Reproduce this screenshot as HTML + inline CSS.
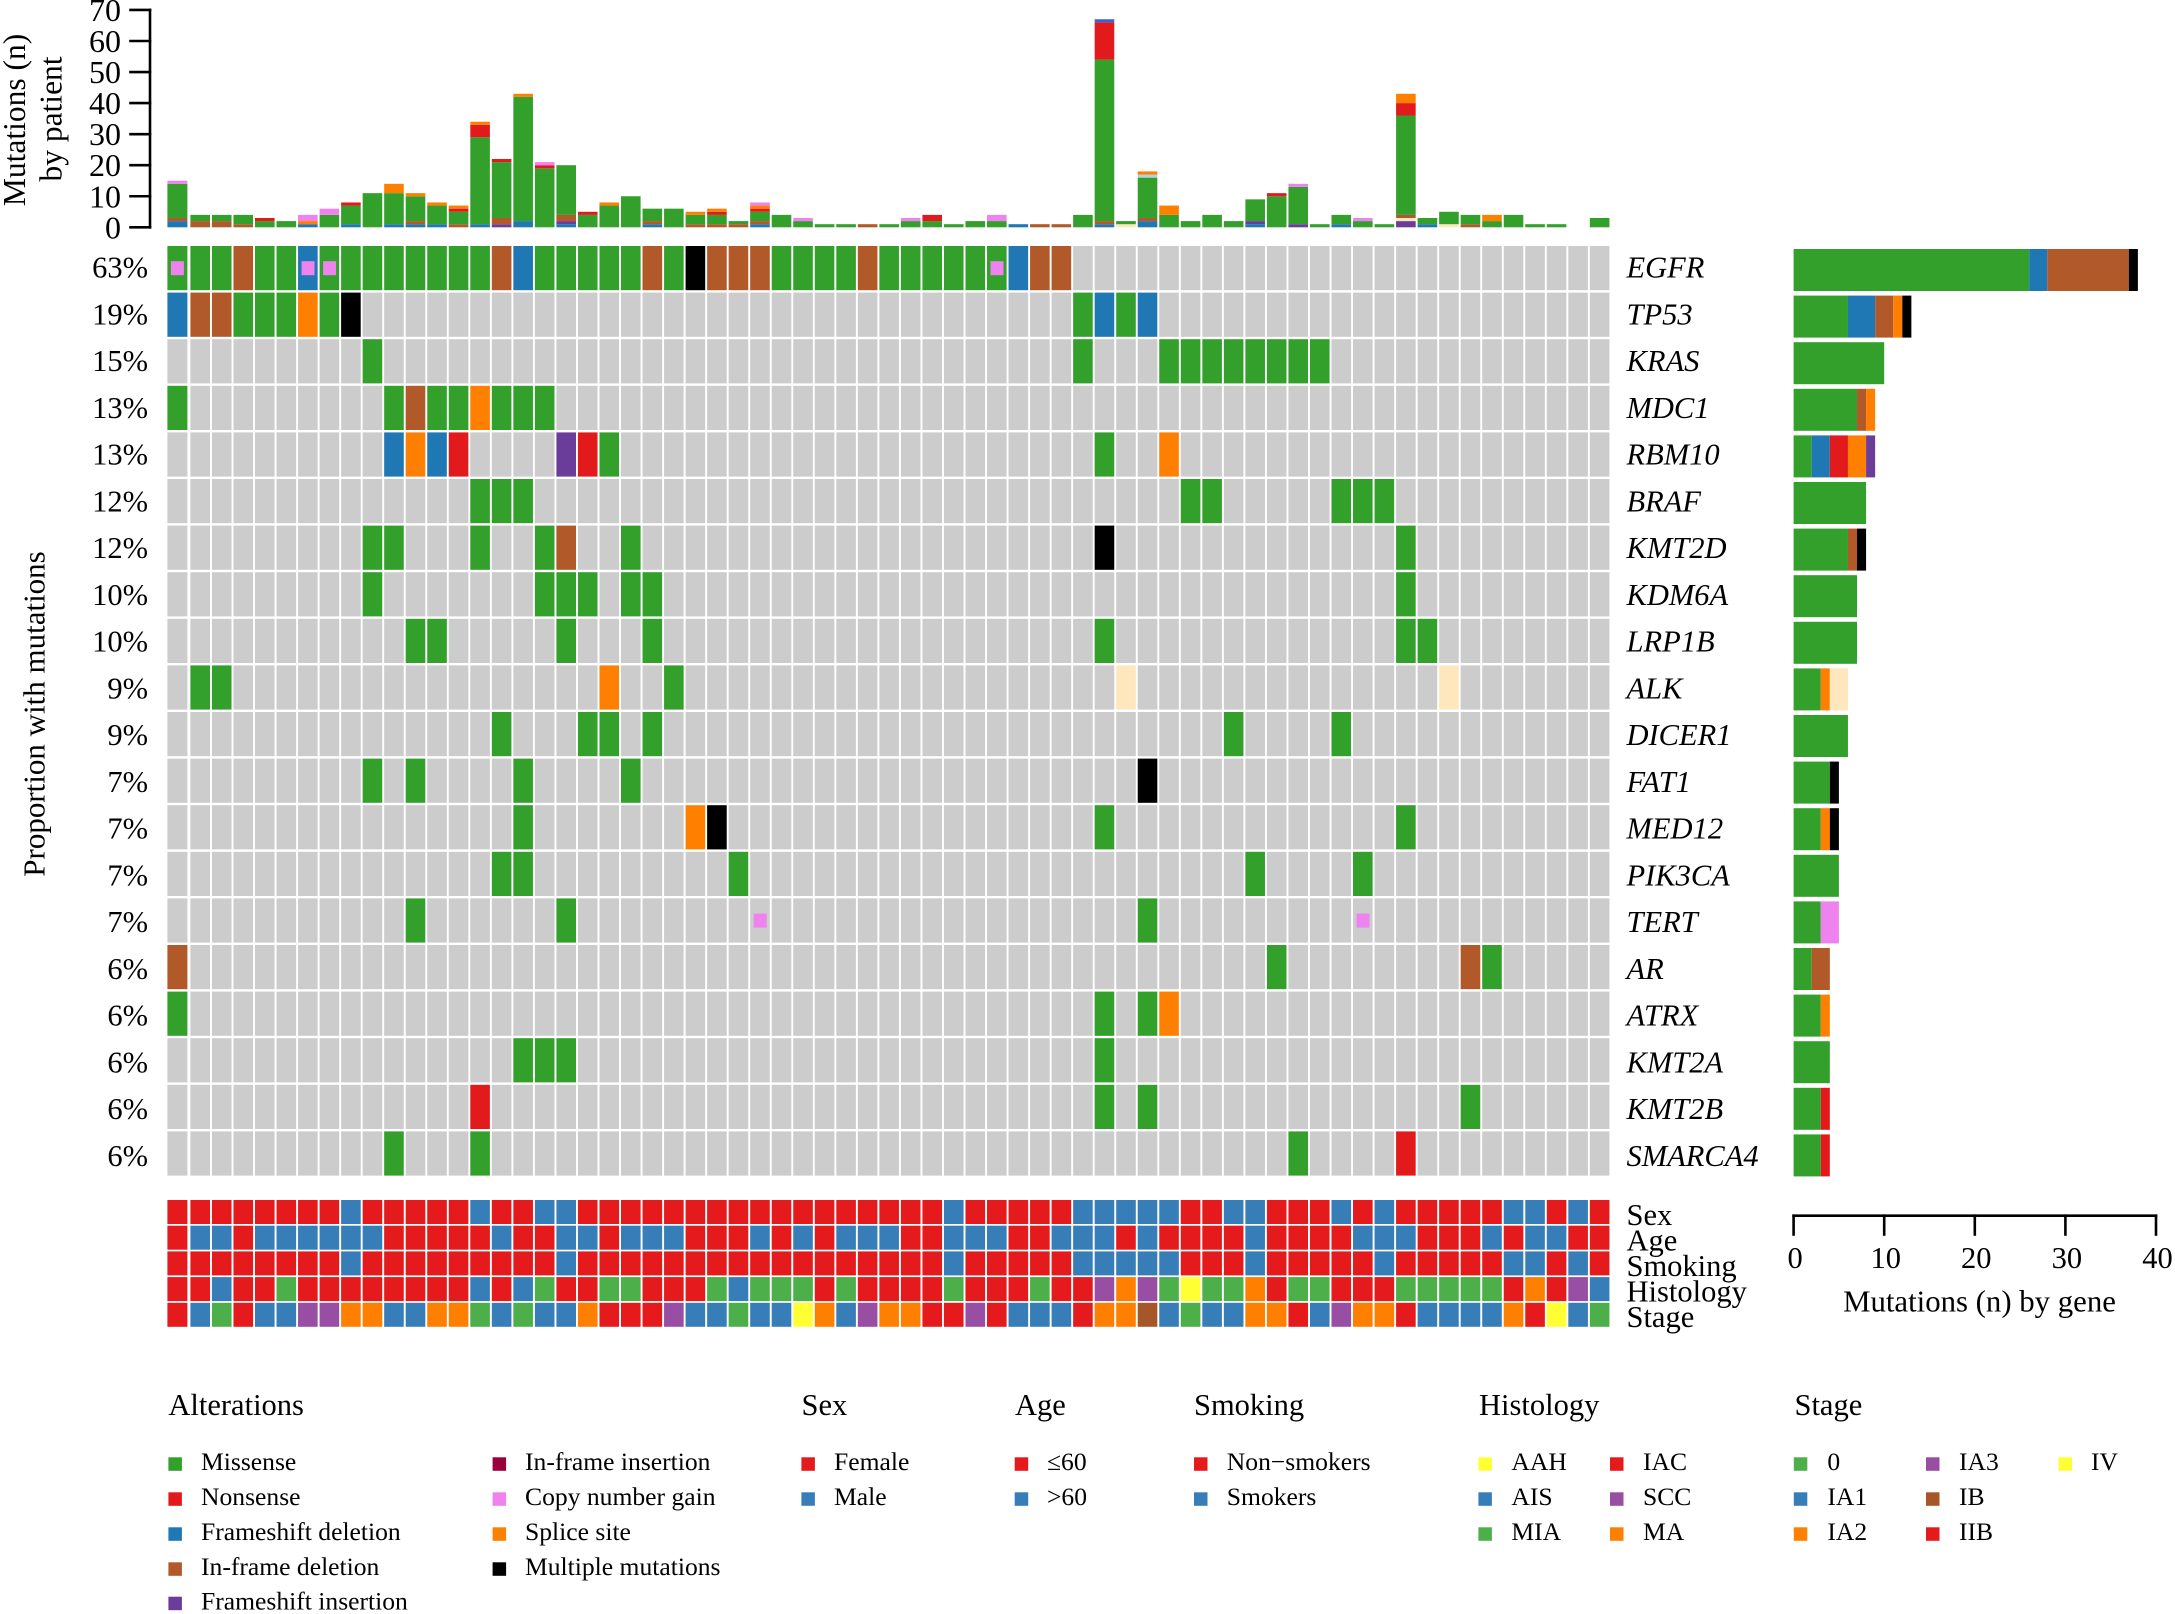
<!DOCTYPE html>
<html lang="en">
<head>
<meta charset="utf-8">
<title>Oncoprint of mutations by patient and gene</title>
<style>
html,body{margin:0;padding:0;background:#fff;}
svg{display:block;}
text{font-family:"Liberation Serif",serif;fill:#000;}
.leg{font-size:25.6px;}
.ttl{font-size:30.5px;}
</style>
</head>
<body>
<svg id="chart" xmlns="http://www.w3.org/2000/svg" width="2175" height="1614" viewBox="0 0 2175 1614">
<rect width="2175" height="1614" fill="#ffffff"/>
<g id="topBars"></g>
<g id="topAxis"></g>
<text font-size="31.5" text-anchor="middle" transform="translate(25 120) rotate(-90)">Mutations (n)</text>
<text font-size="31.5" text-anchor="middle" transform="translate(61.7 119) rotate(-90)">by patient</text>
<text font-size="31" text-anchor="middle" transform="translate(44.5 714) rotate(-90)">Proportion with mutations</text>
<g id="grid"></g>
<g id="pct"></g>
<g id="genes"></g>
<g id="geneBars"></g>
<g id="ann"></g>
<g id="annLabels"></g>
<g id="geneAxis"></g>
<text font-size="30.8" text-anchor="middle" x="1979.5" y="1311.7">Mutations (n) by gene</text>

<g>
<text class="ttl" x="168.4" y="1415">Alterations</text>
<rect x="168.4" y="1457.3" width="13.5" height="13.5" fill="#33a02c"/><text class="leg" x="201" y="1470">Missense</text>
<rect x="168.4" y="1492.3" width="13.5" height="13.5" fill="#e31a1c"/><text class="leg" x="201" y="1505">Nonsense</text>
<rect x="168.4" y="1527.3" width="13.5" height="13.5" fill="#1f78b4"/><text class="leg" x="201" y="1540">Frameshift deletion</text>
<rect x="168.4" y="1562.3" width="13.5" height="13.5" fill="#b15928"/><text class="leg" x="201" y="1575">In-frame deletion</text>
<rect x="168.4" y="1596.7" width="13.5" height="13.5" fill="#6a3d9a"/><text class="leg" x="201" y="1609.5">Frameshift insertion</text>
<rect x="492.6" y="1457.3" width="13.5" height="13.5" fill="#99003c"/><text class="leg" x="525" y="1470">In-frame insertion</text>
<rect x="492.6" y="1492.3" width="13.5" height="13.5" fill="#ee82ee"/><text class="leg" x="525" y="1505">Copy number gain</text>
<rect x="492.6" y="1527.3" width="13.5" height="13.5" fill="#ff7f00"/><text class="leg" x="525" y="1540">Splice site</text>
<rect x="492.6" y="1562.3" width="13.5" height="13.5" fill="#000000"/><text class="leg" x="525" y="1575">Multiple mutations</text>
</g>

<g>
<text class="ttl" x="801.5" y="1415">Sex</text>
<rect x="801.4" y="1457.3" width="13.5" height="13.5" fill="#e41a1c"/><text class="leg" x="834" y="1470">Female</text>
<rect x="801.4" y="1492.3" width="13.5" height="13.5" fill="#377eb8"/><text class="leg" x="834" y="1505">Male</text>
</g>

<g>
<text class="ttl" x="1015" y="1415">Age</text>
<rect x="1014.7" y="1457.3" width="13.5" height="13.5" fill="#e41a1c"/><text class="leg" x="1047" y="1470">≤60</text>
<rect x="1014.7" y="1492.3" width="13.5" height="13.5" fill="#377eb8"/><text class="leg" x="1047" y="1505">&gt;60</text>
</g>

<g>
<text class="ttl" x="1194" y="1415">Smoking</text>
<rect x="1194" y="1457.3" width="13.5" height="13.5" fill="#e41a1c"/><text class="leg" x="1226.8" y="1470">Non−smokers</text>
<rect x="1194" y="1492.3" width="13.5" height="13.5" fill="#377eb8"/><text class="leg" x="1226.8" y="1505">Smokers</text>
</g>

<g>
<text class="ttl" x="1479" y="1415">Histology</text>
<rect x="1478.4" y="1457.3" width="13.5" height="13.5" fill="#ffff33"/><text class="leg" x="1511.4" y="1470">AAH</text>
<rect x="1478.4" y="1492.3" width="13.5" height="13.5" fill="#377eb8"/><text class="leg" x="1511.4" y="1505">AIS</text>
<rect x="1478.4" y="1527.3" width="13.5" height="13.5" fill="#4daf4a"/><text class="leg" x="1511.4" y="1540">MIA</text>
<rect x="1610" y="1457.3" width="13.5" height="13.5" fill="#e41a1c"/><text class="leg" x="1643" y="1470">IAC</text>
<rect x="1610" y="1492.3" width="13.5" height="13.5" fill="#984ea3"/><text class="leg" x="1643" y="1505">SCC</text>
<rect x="1610" y="1527.3" width="13.5" height="13.5" fill="#ff7f00"/><text class="leg" x="1643" y="1540">MA</text>
</g>

<g>
<text class="ttl" x="1794.5" y="1415">Stage</text>
<rect x="1793.8" y="1457.3" width="13.5" height="13.5" fill="#4daf4a"/><text class="leg" x="1827.4" y="1470">0</text>
<rect x="1793.8" y="1492.3" width="13.5" height="13.5" fill="#377eb8"/><text class="leg" x="1827.4" y="1505">IA1</text>
<rect x="1793.8" y="1527.3" width="13.5" height="13.5" fill="#ff7f00"/><text class="leg" x="1827.4" y="1540">IA2</text>
<rect x="1926" y="1457.3" width="13.5" height="13.5" fill="#984ea3"/><text class="leg" x="1959" y="1470">IA3</text>
<rect x="1926" y="1492.3" width="13.5" height="13.5" fill="#a65628"/><text class="leg" x="1959" y="1505">IB</text>
<rect x="1926" y="1527.3" width="13.5" height="13.5" fill="#e41a1c"/><text class="leg" x="1959" y="1540">IIB</text>
<rect x="2058.5" y="1457.3" width="13.5" height="13.5" fill="#ffff33"/><text class="leg" x="2091" y="1470">IV</text>
</g>
</svg>

<script>
// ---------- Data: mutations per patient, one array per alteration type (67 patients) ----------
const patientFsDel = [
  2,0,0,0,0,0,1,0,1,0,
  1,1,1,0,1,0,2,0,1,0,
  0,0,1,0,0,0,0,1,0,0,
  0,0,0,0,0,0,0,0,0,1,
  0,0,0,1,0,2,0,0,0,0,
  1,0,0,0,1,0,0,0,1,0,
  0,0,0,0,0,0,0];
const patientFsIns = [
  0,0,0,0,0,0,0,0,0,0,
  0,0,0,0,0,1,0,0,1,0,
  0,0,0,0,0,0,0,0,0,0,
  0,0,0,0,0,0,0,0,0,0,
  0,0,0,0,0,0,0,0,0,0,
  1,0,1,0,0,0,0,2,0,0,
  0,0,0,0,0,0,0];
const patientFusion = [
  0,0,0,0,0,0,0,0,0,0,
  0,0,0,0,0,0,0,0,0,0,
  0,0,0,0,0,0,0,0,0,0,
  0,0,0,0,0,0,0,0,0,0,
  0,0,0,0,1,0,0,0,0,0,
  0,0,0,0,0,0,0,1,0,1,
  0,0,0,0,0,0,0];
const patientInframe = [
  1,2,2,1,0,0,0,0,0,0,
  0,1,0,1,0,2,0,0,2,0,
  0,0,1,0,1,1,1,1,0,0,
  0,0,1,0,0,0,0,0,0,0,
  1,1,0,1,0,1,0,0,0,0,
  0,0,0,0,0,0,0,1,0,0,
  1,0,0,0,0,0,0];
const patientMissense = [
  11,2,2,3,2,2,0,4,6,11,
  10,8,6,4,28,18,40,19,16,4,
  7,10,4,6,3,3,1,3,4,2,
  1,1,0,1,2,2,1,2,2,0,
  0,0,4,52,1,13,4,2,4,2,
  7,10,12,1,3,2,1,32,2,4,
  3,2,4,1,1,0,3];
const patientNonsense = [
  0,0,0,0,1,0,0,0,1,0,
  0,0,0,1,4,1,0,1,0,1,
  0,0,0,0,0,1,0,1,0,0,
  0,0,0,0,0,2,0,0,0,0,
  0,0,0,12,0,0,0,0,0,0,
  0,1,0,0,0,0,0,4,0,0,
  0,0,0,0,0,0,0];
const patientOtherLight = [
  0,0,0,0,0,0,0,0,0,0,
  0,0,0,0,0,0,0,0,0,0,
  0,0,0,0,0,0,0,0,0,0,
  0,0,0,0,0,0,0,0,0,0,
  0,0,0,0,0,1,0,0,0,0,
  0,0,0,0,0,0,0,0,0,0,
  0,0,0,0,0,0,0];
const patientSplice = [
  0,0,0,0,0,0,1,0,0,0,
  3,1,1,1,1,0,1,0,0,0,
  1,0,0,0,1,1,0,1,0,0,
  0,0,0,0,0,0,0,0,0,0,
  0,0,0,0,0,1,3,0,0,0,
  0,0,0,0,0,0,0,3,0,0,
  0,2,0,0,0,0,0];
const patientCopyGain = [
  1,0,0,0,0,0,2,2,0,0,
  0,0,0,0,0,0,0,1,0,0,
  0,0,0,0,0,0,0,1,0,1,
  0,0,0,0,1,0,0,0,2,0,
  0,0,0,0,0,0,0,0,0,0,
  0,0,1,0,0,1,0,0,0,0,
  0,0,0,0,0,0,0];
const patientOtherBlue = [
  0,0,0,0,0,0,0,0,0,0,
  0,0,0,0,0,0,0,0,0,0,
  0,0,0,0,0,0,0,0,0,0,
  0,0,0,0,0,0,0,0,0,0,
  0,0,0,1,0,0,0,0,0,0,
  0,0,0,0,0,0,0,0,0,0,
  0,0,0,0,0,0,0];
const patientTickLabels = [0,10,20,30,40,50,60,70];

// ---------- Data: genes ----------
const geneNames = ["EGFR","TP53","KRAS","MDC1","RBM10","BRAF","KMT2D","KDM6A","LRP1B","ALK","DICER1","FAT1","MED12","PIK3CA","TERT","AR","ATRX","KMT2A","KMT2B","SMARCA4"];
const genePercents = ["63%","19%","15%","13%","13%","12%","12%","10%","10%","9%","9%","7%","7%","7%","7%","6%","6%","6%","6%","6%"];
const geneMissense = [26,6,10,7,2,8,6,7,7,3,6,4,3,5,3,2,3,4,3,3];
const geneFsDel    = [2,3,0,0,2,0,0,0,0,0,0,0,0,0,0,0,0,0,0,0];
const geneInframe  = [9,2,0,1,0,0,1,0,0,0,0,0,0,0,0,2,0,0,0,0];
const geneNonsense = [0,0,0,0,2,0,0,0,0,0,0,0,0,0,0,0,0,0,1,1];
const geneSplice   = [0,1,0,1,2,0,0,0,0,1,0,0,1,0,0,0,1,0,0,0];
const geneFsIns    = [0,0,0,0,1,0,0,0,0,0,0,0,0,0,0,0,0,0,0,0];
const geneFusion   = [0,0,0,0,0,0,0,0,0,2,0,0,0,0,0,0,0,0,0,0];
const geneCopyGain = [0,0,0,0,0,0,0,0,0,0,0,0,0,0,2,0,0,0,0,0];
const geneMultiple = [1,1,0,0,0,0,1,0,0,0,0,1,1,0,0,0,0,0,0,0];
const geneTickLabels = [0,10,20,30,40];

// ---------- Data: oncoprint matrix (one code per patient; M missense, N nonsense, F frameshift del,
// I in-frame del, P frameshift ins, S splice, X multiple, A fusion; lowercase m/f/c carry a copy-gain marker) ----------
const oncoRows = [
  "mMMIMMfmMM MMMMMIFMMM MMIMXIIIMM MMIMMMMMmF II........ .......... .......",
  "FIIMMMSMX. .......... .......... .......... ..MFMF.... .......... .......",
  ".........M .......... .......... .......... ..M...MMMM MMMM...... .......",
  "M......... MIMMSMMM.. .......... .......... .......... .......... .......",
  ".......... FSFN....PN M......... .......... ...M..S... .......... .......",
  ".......... ....MMM... .......... .......... .......MM. ....MMM... .......",
  ".........M M...M..MI. .M........ .......... ...X...... .......M.. .......",
  ".........M .......MMM .MM....... .......... .......... .......M.. .......",
  ".......... .MM.....M. ..M....... .......... ...M...... .......MM. .......",
  ".MM....... .......... S..M...... .......... ....A..... .........A .......",
  ".......... .....M...M M.M....... .......... .........M ....M..... .......",
  ".........M .M....M... .M........ .......... .....X.... .......... .......",
  ".......... ......M... ....SX.... .......... ...M...... .......M.. .......",
  ".......... .....MM... ......M... .......... .......... M....M.... .......",
  ".......... .M......M. .......c.. .......... .....M.... .....c.... .......",
  "I......... .......... .......... .......... .......... .M........ IM.....",
  "M......... .......... .......... .......... ...M.MS... .......... .......",
  ".......... ......MMM. .......... .......... ...M...... .......... .......",
  ".......... ....N..... .......... .......... ...M.M.... .......... M......",
  ".......... M...M..... .......... .......... .......... ..M....N.. ......."
];

// ---------- Data: clinical annotation tracks ----------
const annotationNames = ["Sex","Age","Smoking","Histology","Stage"];
const annotationSex       = "RRRRRRRRBR RRRRBRRBBR RRRRRRRRRR RRRRRRBRRR RRBBBBBRRB BRRRBRBRRR RRBBRBR";
const annotationAge       = "RBBRBBBBBB RRRRRBRRBB RBBBRRRBRB RBBBRRBBBR RBBBRBRRRR BRRRRBBBRR RBRBBRR";
const annotationSmoking   = "RRRRRRRRBR RRRRRRRRBR RRRRRRRRRR RRRRRRBRRR RRBBBBBRRR BRRRRRBRRR RRBBRBR";
const annotationHistology = "RRBRRGRRRR RRRRBRBGRR GGRRRGBGGG RGRRRRGRRR GRRPOPGYGG ORGGRRRGGG GGRORPB";
const annotationStage     = "RBGRBBPPOO BBOOGBGBBO RRRPBBGBBY OBPOORRPRB BBROOTBGBB OORBPOORBB BBORYBG";

// ---------- Scales ----------
const NS = "http://www.w3.org/2000/svg";
function xCol(i){ return i === 0 ? 167.4 : 168.87 + 21.53 * i; }
function wCol(i){ return i === 0 ? 20 : 19.6; }
function yRow(i){ return 246 + 46.6 * i; }
const rowH = 44.2;
function yLabel(i){ return 277.5 + 46.75 * i; }
function yPatient(v){ return 227.3 - 3.105 * v; }
function xGene(v){ return 1793.6 + 9.06 * v; }
function yAnn(i){ return 1200 + 25.7 * i; }
function yAnnLabel(i){ return 1225 + 25.5 * i; }

function addRect(parent, x, y, w, h, fill){
  const r = document.createElementNS(NS, "rect");
  r.setAttribute("x", x);
  r.setAttribute("y", y);
  r.setAttribute("width", w);
  r.setAttribute("height", h);
  r.setAttribute("fill", fill);
  parent.appendChild(r);
  return r;
}
function addText(parent, x, y, size, anchor, str, italic){
  const t = document.createElementNS(NS, "text");
  t.setAttribute("x", x);
  t.setAttribute("y", y);
  t.setAttribute("font-size", size);
  t.setAttribute("text-anchor", anchor);
  if (italic) t.setAttribute("font-style", "italic");
  t.textContent = str;
  parent.appendChild(t);
  return t;
}
function addLine(parent, x1, y1, x2, y2){
  const l = document.createElementNS(NS, "line");
  l.setAttribute("x1", x1);
  l.setAttribute("y1", y1);
  l.setAttribute("x2", x2);
  l.setAttribute("y2", y2);
  l.setAttribute("stroke", "#000");
  l.setAttribute("stroke-width", "2.6");
  l.setAttribute("stroke-linecap", "square");
  parent.appendChild(l);
  return l;
}

const GREEN="#33a02c", RED="#e31a1c", BLUE="#1f78b4", BROWN="#b15928", PURPLE="#6a3d9a",
      ORANGE="#ff7f00", PINK="#ee82ee", PALE="#fee6bd", BLACK="#000000", GRAY="#cccccc";
const codeColor = {M:GREEN,m:GREEN,N:RED,F:BLUE,f:BLUE,I:BROWN,P:PURPLE,S:ORANGE,X:BLACK,A:PALE,c:GRAY};
const annColor = {R:"#e41a1c",B:"#377eb8",G:"#4daf4a",P:"#984ea3",O:"#ff7f00",Y:"#ffff33",T:"#a65628"};

// ---------- Top stacked bars ----------
const topBars = document.getElementById("topBars");
const patientStack = [
  [patientFsDel,BLUE,"frameshift-deletion"],
  [patientFsIns,PURPLE,"frameshift-insertion"],
  [patientFusion,PALE,"fusion"],
  [patientInframe,BROWN,"inframe-deletion"],
  [patientMissense,GREEN,"missense"],
  [patientNonsense,RED,"nonsense"],
  [patientOtherLight,"#b6d0e4","other-light"],
  [patientSplice,ORANGE,"splice-site"],
  [patientCopyGain,PINK,"copy-number-gain"],
  [patientOtherBlue,"#3a5fd6","other-blue"]
];
for (let i = 0; i < patientMissense.length; i++) {
  let base = 0;
  for (const layer of patientStack) {
    const v = layer[0][i];
    if (!v) continue;
    const seg = addRect(topBars, xCol(i), yPatient(base + v), wCol(i), yPatient(base) - yPatient(base + v), layer[1]);
    
    
    base += v;
  }
}

// ---------- Top axis ----------
const topAxis = document.getElementById("topAxis");
const topAxisLine = addLine(topAxis, 150, yPatient(patientTickLabels[0]), 150, yPatient(patientTickLabels[patientTickLabels.length - 1]));


patientTickLabels.forEach(function(v){
  const tick = addLine(topAxis, 130.5, yPatient(v), 150, yPatient(v));
  
  
  const lab = addText(topAxis, 121, yPatient(v) + 11, 32, "end", String(v), false);
  
  
});

// ---------- Oncoprint grid ----------
const grid = document.getElementById("grid");
oncoRows.forEach(function(row, r){
  const codes = row.replace(/ /g, "").split("");
  codes.forEach(function(code, c){
    const fill = code === "." ? GRAY : codeColor[code];
    const cell = addRect(grid, xCol(c), yRow(r), wCol(c), rowH, fill);
    
    
    if (code === "m" || code === "f" || code === "c") {
      const mark = addRect(grid, xCol(c) + 3.5, yRow(r) + 15.2, 13, 14, PINK);
      
      
    }
  });
});

// ---------- Row labels ----------
const pct = document.getElementById("pct");
genePercents.forEach(function(p, r){
  const t = addText(pct, 148, yLabel(r), 30.5, "end", p, false);
  
  
});
const genes = document.getElementById("genes");
geneNames.forEach(function(g, r){
  const t = addText(genes, 1626.5, yLabel(r), 30.5, "start", g, true);
  
  
});

// ---------- Right stacked bars ----------
const geneBars = document.getElementById("geneBars");
const geneStack = [
  [geneMissense,GREEN,"missense"],
  [geneFsDel,BLUE,"frameshift-deletion"],
  [geneInframe,BROWN,"inframe-deletion"],
  [geneNonsense,RED,"nonsense"],
  [geneSplice,ORANGE,"splice-site"],
  [geneFsIns,PURPLE,"frameshift-insertion"],
  [geneFusion,PALE,"fusion"],
  [geneCopyGain,PINK,"copy-number-gain"],
  [geneMultiple,BLACK,"multiple-mutations"]
];
geneNames.forEach(function(g, r){
  let base = 0;
  geneStack.forEach(function(layer){
    const v = layer[0][r];
    if (!v) return;
    const seg = addRect(geneBars, xGene(base), yRow(r) + 3, xGene(base + v) - xGene(base), 42, layer[1]);
    
    
    base += v;
  });
});

// ---------- Right axis ----------
const geneAxis = document.getElementById("geneAxis");
const geneAxisLine = addLine(geneAxis, xGene(geneTickLabels[0]), 1215.7, xGene(geneTickLabels[geneTickLabels.length - 1]), 1215.7);


geneTickLabels.forEach(function(v){
  const tick = addLine(geneAxis, xGene(v), 1215.7, xGene(v), 1234.5);
  
  
  const lab = addText(geneAxis, xGene(v) + 1.5, 1268, 30.5, "middle", String(v), false);
  
  
});

// ---------- Annotation tracks ----------
const ann = document.getElementById("ann");
const annLabels = document.getElementById("annLabels");
[annotationSex, annotationAge, annotationSmoking, annotationHistology, annotationStage].forEach(function(track, r){
  track.replace(/ /g, "").split("").forEach(function(code, c){
    const cell = addRect(ann, xCol(c), yAnn(r), wCol(c), 24, annColor[code]);
    
    
  });
  const lab = addText(annLabels, 1626.5, yAnnLabel(r), 30.5, "start", annotationNames[r], false);
  
  
});
</script>
</body>
</html>
